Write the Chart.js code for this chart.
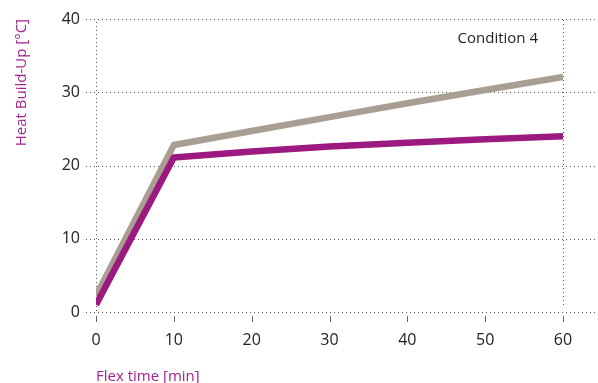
<!DOCTYPE html>
<html>
<head>
<meta charset="utf-8">
<script src="https://cdn.jsdelivr.net/npm/chart.js@4/dist/chart.umd.min.js"></script>
<style>
  html, body { margin: 0; padding: 0; background: #fff; }
  #wrap { width: 598px; height: 383px; position: relative; }
</style>
</head>
<body>
<div id="wrap"><canvas id="c" width="598" height="383"></canvas></div>
<script>
// Flex time in minutes
const flexTime = [0, 10, 20, 30, 40, 50, 60];
// Heat build-up in °C for the two compounds
const heatPurple = [1.0, 21.1, 21.9, 22.6, 23.1, 23.6, 24.0];
const heatGray   = [2.2, 22.8, 24.7, 26.6, 28.5, 30.3, 32.1];
const xTicks = [0, 10, 20, 30, 40, 50, 60];
const yTicks = [0, 10, 20, 30, 40];
const panelLabel = 'Condition 4';

const PURPLE = '#9c1a80';
const GRAY = '#a89e92';
const TITLE_COLOR = '#a3238c';
const FONT = '"Open Sans", sans-serif';

const toXY = (xs, ys) => xs.map((x, i) => ({ x, y: ys[i] }));

// Dotted grid, end frame lines, detached tick marks and the panel label
const decor = {
  id: 'decor',
  beforeDatasetsDraw(chart) {
    const { ctx, chartArea: a, scales: { x, y } } = chart;
    ctx.save();
    ctx.strokeStyle = '#555';
    ctx.lineWidth = 1;
    ctx.setLineDash([1, 3]);
    yTicks.forEach(v => {
      const py = Math.round(y.getPixelForValue(v)) + 0.5;
      ctx.beginPath();
      ctx.moveTo(a.left - 10, py);
      ctx.lineTo(chart.width, py);
      ctx.stroke();
    });
    [xTicks[0], xTicks[xTicks.length - 1]].forEach((v, i) => {
      const px = Math.round(x.getPixelForValue(v)) + 0.5;
      ctx.beginPath();
      ctx.moveTo(px, a.top + (i === 0 ? 3 : 1));
      ctx.lineTo(px, a.bottom - (i === 0 ? 0 : 4));
      ctx.stroke();
    });
    ctx.setLineDash([]);
    ctx.strokeStyle = '#666';
    xTicks.forEach(v => {
      const px = Math.round(x.getPixelForValue(v)) + 0.5;
      ctx.beginPath();
      ctx.moveTo(px, a.bottom + 4);
      ctx.lineTo(px, a.bottom + 10);
      ctx.stroke();
    });
    ctx.restore();
  },
  afterDraw(chart) {
    const { ctx, chartArea: a } = chart;
    ctx.save();
    ctx.fillStyle = '#222';
    ctx.font = '15px ' + FONT;
    ctx.textAlign = 'right';
    ctx.textBaseline = 'middle';
    ctx.fillText(panelLabel, a.right - 25, a.top + 20);
    ctx.restore();
  }
};

new Chart(document.getElementById('c'), {
  type: 'line',
  data: {
    datasets: [
      {
        data: toXY(flexTime, heatPurple),
        borderColor: PURPLE,
        borderWidth: 6.5,
        pointRadius: 0,
        borderJoinStyle: 'round',
        tension: 0
      },
      {
        data: toXY(flexTime, heatGray),
        borderColor: GRAY,
        borderWidth: 6.5,
        pointRadius: 0,
        borderJoinStyle: 'round',
        tension: 0
      }
    ]
  },
  options: {
    responsive: false,
    animation: false,
    layout: { padding: { left: 6, right: 35, top: 19, bottom: 0 } },
    plugins: { legend: { display: false }, tooltip: { enabled: false } },
    scales: {
      x: {
        type: 'linear',
        min: 0, max: 60,
        border: { display: false },
        grid: { display: false, drawTicks: false },
        afterBuildTicks: s => { s.ticks = xTicks.map(v => ({ value: v })); },
        afterFit: s => { s.height = 71; },
        ticks: { padding: 19, color: '#222', font: { family: FONT, size: 16 }, maxRotation: 0 },
        title: {
          display: true, text: 'Flex time [min]', align: 'start',
          color: TITLE_COLOR, font: { family: FONT, size: 15 }, padding: { top: 0, bottom: -3 }
        }
      },
      y: {
        min: 0, max: 40,
        border: { display: false },
        grid: { display: false, drawTicks: false },
        afterBuildTicks: s => { s.ticks = yTicks.map(v => ({ value: v })); },
        afterFit: s => { s.width = 90; s.paddingTop = 0; s.paddingBottom = 0; },
        ticks: { padding: 16, color: '#222', font: { family: FONT, size: 16 } },
        title: {
          display: true, text: 'Heat Build-Up [°C]', align: 'end',
          color: TITLE_COLOR, font: { family: FONT, size: 15 }, padding: { top: 7, bottom: 0 }
        }
      }
    }
  },
  plugins: [decor]
});
</script>
</body>
</html>
